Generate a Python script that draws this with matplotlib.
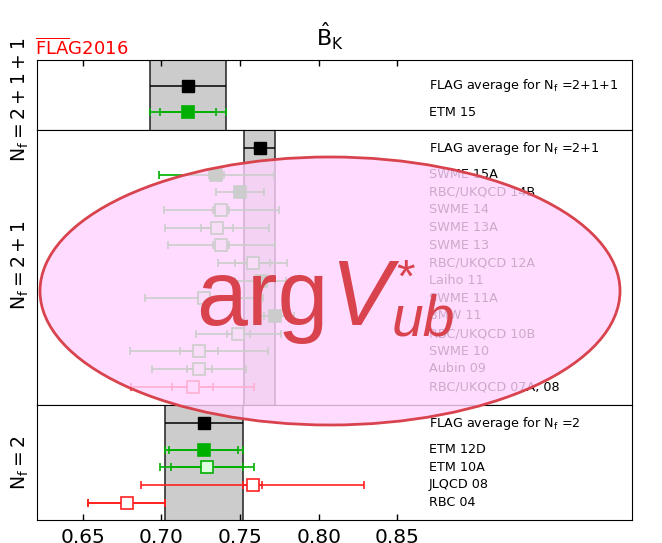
import matplotlib
matplotlib.use("Agg")
import matplotlib.pyplot as plt
from matplotlib.patches import Ellipse

GREEN = "#00b000"
RED = "#ff2020"
OVER = "#d8434e"

# FLAG averages per N_f
nf_labels = ["2+1+1", "2+1", "2"]
avg_val = [0.717, 0.7625, 0.727]
avg_err = [0.024, 0.0097, 0.025]

# N_f = 2+1+1
names_211 = ["ETM 15"]
val_211 = [0.717]
stat_211 = [0.018]
tot_211 = [0.024]
kind_211 = ["used"]

# N_f = 2+1
names_21 = ["SWME 15A", "RBC/UKQCD 14B", "SWME 14", "SWME 13A", "SWME 13",
            "RBC/UKQCD 12A", "Laiho 11", "SWME 11A", "BMW 11", "RBC/UKQCD 10B",
            "SWME 10", "Aubin 09", "RBC/UKQCD 07A, 08"]
val_21 = [0.735, 0.750, 0.738, 0.7355, 0.738, 0.758, 0.763, 0.727, 0.7725,
          0.749, 0.724, 0.724, 0.720]
stat_21 = [0.005, 0.0024, 0.005, 0.010, 0.005, 0.011, 0.004, 0.004, 0.007,
           0.007, 0.012, 0.008, 0.013]
tot_21 = [0.0367, 0.015, 0.0365, 0.033, 0.034, 0.022, 0.016, 0.0375, 0.0115,
          0.027, 0.044, 0.030, 0.039]
kind_21 = ["used", "used", "ok", "ok", "ok", "ok", "used", "ok", "used", "ok",
           "ok", "ok", "bad"]

# N_f = 2
names_2 = ["ETM 12D", "ETM 10A", "JLQCD 08", "RBC 04"]
val_2 = [0.727, 0.729, 0.758, 0.678]
stat_2 = [0.022, 0.023, 0.006, 0.0245]
tot_2 = [0.025, 0.030, 0.071, 0.0245]
kind_2 = ["used", "ok", "bad", "bad"]

xticks = [0.65, 0.70, 0.75, 0.80, 0.85]

W, H = 662, 543
ROW = 17.67  # px per row
fig = plt.figure(figsize=(W / 100, H / 100), dpi=100)


def fx(px):
    return px / W


def fy(px):
    return (H - px) / H


def add_panel(top_px, bot_px, pad, nf, a, ae, names, vals, stat, tot, kind, lab_shift=0):
    ax = fig.add_axes([fx(37), fy(bot_px), 595 / W, (bot_px - top_px) / H])
    ax.set_xlim(0.621, 0.999)
    ax.set_ylim((bot_px - top_px) / ROW, 0)
    ax.set_yticks([])
    ax.axvspan(a - ae, a + ae, color="#cccccc", lw=0, zorder=0)
    ax.axvline(a - ae, color="#222222", lw=1.1, zorder=1)
    ax.axvline(a + ae, color="#222222", lw=1.1, zorder=1)
    ax.errorbar(a, pad, xerr=ae, fmt="s", color="k", ms=8.4, lw=1.1, capsize=0, zorder=3)
    ax.text(0.870, pad, "FLAG average for N$_\\mathrm{f}$ =" + nf, fontsize=9.2,
            va="center", math_fontfamily="dejavusans")
    for i, (n, v, s, t, k) in enumerate(zip(names, vals, stat, tot, kind)):
        y = pad + 1.5 + i
        col = RED if k == "bad" else GREEN
        face = {"used": GREEN, "ok": "#ddffdd", "bad": "white"}[k]
        ax.errorbar(v, y, xerr=t, fmt="none", ecolor=col, elinewidth=1.2,
                    capsize=3, capthick=1.2, zorder=3)
        ax.errorbar(v, y, xerr=s, fmt="s", color=col, mfc=face, mec=col, mew=1.2,
                    ms=8.4, elinewidth=1.2, capsize=3, capthick=1.2, zorder=4)
        ax.text(0.870, y, n, fontsize=9.2, va="center")
    fig.text(fx(20), fy((top_px + bot_px) / 2 + lab_shift), "$\\mathrm{N_f=" + nf + "}$",
             rotation=90, fontsize=13.5, ha="center", va="center",
             math_fontfamily="dejavusans")
    ax.set_xticks(xticks)
    ax.tick_params(axis="x", direction="in", length=4, width=1, top=False, bottom=False,
                   labelbottom=False)
    return ax


ax_top = add_panel(60, 130, 1.47, nf_labels[0], avg_val[0], avg_err[0],
                   names_211, val_211, stat_211, tot_211, kind_211, lab_shift=5)
ax_mid = add_panel(130, 405, 1.02, nf_labels[1], avg_val[1], avg_err[1],
                   names_21, val_21, stat_21, tot_21, kind_21, lab_shift=-2)
ax_bot = add_panel(405, 520, 1.02, nf_labels[2], avg_val[2], avg_err[2],
                   names_2, val_2, stat_2, tot_2, kind_2)

ax_top.tick_params(axis="x", top=True)
ax_bot.tick_params(axis="x", bottom=True, labelbottom=True, labelsize=14.5, pad=6)
ax_bot.set_xticklabels(["%.2f" % t for t in xticks])

fig.text(fx(330), fy(46), r"$\hat{\mathrm{B}}_\mathrm{K}$", fontsize=16,
         ha="center", va="baseline", math_fontfamily="dejavusans")
fig.text(fx(35), fy(55), r"$\overline{\mathrm{FLA}}$G2016", color="red",
         fontsize=13, ha="left", va="baseline", math_fontfamily="dejavusans")

# overlay ellipse and label
fig.add_artist(Ellipse((fx(330), fy(291)), 580 / W, 268 / H,
                       transform=fig.transFigure, facecolor=(1.0, 0.83, 1.0, 0.8),
                       edgecolor=OVER, lw=2, zorder=10))
big = dict(color=OVER, family="Liberation Sans", zorder=11, va="baseline", ha="left")
fig.text(fx(196), fy(325), "arg", fontsize=66, **big)
fig.text(fx(330), fy(325), "V", fontsize=66, style="italic", **big)
fig.text(fx(392), fy(336), "ub", fontsize=41, style="italic", **big)
fig.text(fx(396), fy(292), "*", fontsize=34, **big)

fig.savefig("out.png", dpi=100)
